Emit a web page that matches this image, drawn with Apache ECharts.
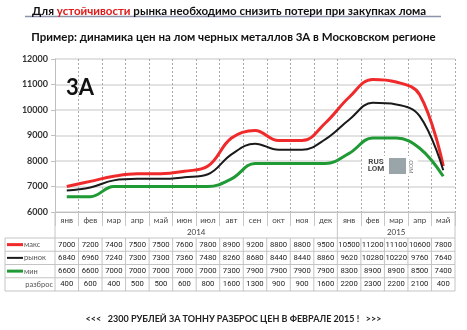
<!DOCTYPE html>
<html>
<head>
<meta charset="utf-8">
<script src="https://cdn.jsdelivr.net/npm/echarts@6/dist/echarts.min.js"></script>
<style>
  html, body { margin: 0; padding: 0; background: #fff; }
  #chart { width: 467px; height: 330px; }
</style>
</head>
<body>
<div id="chart"></div>
<script>
// Monthly scrap prices, grade 3А, Moscow region (RUB per tonne)
const months = ['янв','фев','мар','апр','май','июн','июл','авт','сен','окт','ноя','дек','янв','фев','мар','апр','май'];
const yearLabels = ['2014', '2015'];
const yearSpans = [12, 5];            // number of months under each year
const maxPrice    = [7000, 7200, 7400, 7500, 7500, 7600, 7800, 8900, 9200, 8800, 8800, 9500, 10500, 11200, 11100, 10600, 7800];
const marketPrice = [6840, 6960, 7240, 7300, 7300, 7360, 7480, 8260, 8680, 8440, 8440, 8860, 9620, 10280, 10220, 9760, 7640];
const minPrice    = [6600, 6600, 7000, 7000, 7000, 7000, 7000, 7300, 7900, 7900, 7900, 7900, 8300, 8900, 8900, 8500, 7400];
const spread      = [400, 600, 400, 500, 500, 600, 800, 1600, 1300, 900, 900, 1600, 2200, 2300, 2200, 2100, 400];
const yMin = 6000, yMax = 12000, yStep = 1000;

const FONT = 'Lato, "Open Sans", sans-serif';
const NUM_FONT = 'Roboto, "Liberation Sans", sans-serif';
const RED = '#f02a2a', BLACK = '#1a1a1a', GREEN = '#1f9a35';
const rows = [
  { name: 'макс',    values: maxPrice,    color: RED,   width: 3 },
  { name: 'рынок',   values: marketPrice, color: BLACK, width: 2 },
  { name: 'мин',     values: minPrice,    color: GREEN, width: 3 },
  { name: 'разброс', values: spread,      color: null }
];

const chart = echarts.init(document.getElementById('chart'), null, { renderer: 'canvas' });

chart.setOption({
  animation: false,
  backgroundColor: '#fff',
  title: [{
    left: 27, top: 0,
    text: '{a|Для }{r|устойчивости}{a| рынка необходимо снизить потери при закупках лома}',
    textStyle: {
      rich: {
        a: { fontFamily: FONT, fontSize: 11.5, fontWeight: 'bold', color: '#111' },
        r: { fontFamily: FONT, fontSize: 11.5, fontWeight: 'bold', color: '#e01818' }
      }
    }
  }, {
    left: 'center', top: 26,
    text: 'Пример: динамика цен на лом черных металлов 3А в Московском регионе',
    textStyle: { fontFamily: FONT, fontSize: 11.5, fontWeight: 'bold', color: '#111' }
  }, {
    left: 'center', top: 310,
    text: '<<<   2300 РУБЛЕЙ ЗА ТОННУ РАЗБРОС ЦЕН В ФЕВРАЛЕ 2015 !   >>>',
    textStyle: { fontFamily: FONT, fontSize: 9, fontWeight: 'bold', color: '#222' }
  }],
  grid: { left: 55, right: 12, top: 59, bottom: 118 },
  xAxis: {
    type: 'category',
    data: months,
    boundaryGap: true,
    axisLine: { show: true, lineStyle: { color: '#bfbfbf', width: 1 } },
    axisTick: { show: true, interval: 0, length: 14, lineStyle: { color: '#c8c8c8' } },
    axisLabel: { interval: 0, margin: 4, fontFamily: FONT, fontSize: 8, color: '#444' },
    splitLine: { show: true, interval: 0, lineStyle: { color: '#aaaaaa', width: 1, type: [2, 2] } }
  },
  yAxis: {
    type: 'value',
    min: yMin, max: yMax, interval: yStep,
    axisLine: { show: true, lineStyle: { color: '#bfbfbf' } },
    axisTick: { show: true, length: 4, lineStyle: { color: '#bfbfbf' } },
    axisLabel: { margin: 7, fontFamily: FONT, fontSize: 9, fontWeight: 'bold', color: '#333', formatter: v => String(v) },
    splitLine: { show: true, lineStyle: { color: '#d9d9d9', width: 1.5 } }
  },
  series: rows.filter(r => r.color).map(r => ({
    name: r.name,
    type: 'line',
    data: r.values,
    smooth: 0.4,
    showSymbol: false,
    lineStyle: { color: r.color, width: r.width },
    z: r.color === BLACK ? 3 : 2
  }))
});

// Data table under the plot, aligned with the category axis
function buildTable() {
  const g = [];
  const n = months.length;
  const cx = i => chart.convertToPixel({ xAxisIndex: 0 }, i);
  const half = (cx(1) - cx(0)) / 2;
  const left = cx(0) - half, right = cx(n - 1) + half;
  const yBottom = chart.convertToPixel({ yAxisIndex: 0 }, yMin);
  const rowTop = yBottom + 26, rowH = 13.25;
  const tableLeft = 5;
  const line = (x1, y1, x2, y2, color) => g.push({
    type: 'line', silent: true,
    shape: { x1, y1, x2, y2 },
    style: { stroke: color || '#c4c4c4', lineWidth: 1 }
  });
  const text = (x, y, s, align, extra) => g.push({
    type: 'text', silent: true, x, y,
    style: Object.assign({ text: s, align, verticalAlign: 'middle', fontFamily: NUM_FONT, fontSize: 7.7, fontWeight: 'normal', fill: '#222' }, extra || {})
  });

  // year row
  let start = 0;
  yearLabels.forEach((lab, k) => {
    const end = start + yearSpans[k] - 1;
    text((cx(start) + cx(end)) / 2, yBottom + 20, lab, 'center', { fontSize: 8, fontFamily: FONT, fill: '#444' });
    if (k > 0) line(cx(start) - half, yBottom, cx(start) - half, rowTop);
    start = end + 1;
  });
  line(left, yBottom, left, rowTop + 4 * rowH);
  line(right, yBottom, right, rowTop + 4 * rowH);

  // value rows
  for (let r = 0; r <= 4; r++) line(tableLeft, rowTop + r * rowH, right, rowTop + r * rowH);
  line(tableLeft, rowTop, tableLeft, rowTop + 4 * rowH);
  for (let i = 1; i < n; i++) line(cx(i) - half, rowTop, cx(i) - half, rowTop + 4 * rowH);

  rows.forEach((row, r) => {
    const yc = rowTop + (r + 0.5) * rowH;
    if (row.color) {
      g.push({ type: 'line', silent: true, shape: { x1: 7, y1: yc, x2: 23, y2: yc },
               style: { stroke: row.color, lineWidth: row.width } });
      text(24, yc, row.name, 'left', { fontSize: 7.5, fontFamily: FONT, fill: '#555' });
    } else {
      text(left - 2, yc, row.name, 'right', { fontSize: 7.5, fontFamily: FONT, fill: '#555' });
    }
    row.values.forEach((v, i) => text(cx(i), yc, String(v), 'center'));
  });

  // grade badge inside the plot
  text(80, 88, '3А', 'center', { fontSize: 22, fontWeight: 'bold', fill: '#111', fontFamily: 'Lato, sans-serif' });

  // site logo
  const ly = chart.convertToPixel({ yAxisIndex: 0 }, 8000);
  g.push({ type: 'rect', silent: true, shape: { x: 362, y: ly - 5, width: 56, height: 20 }, style: { fill: '#fff' } });
  text(376, ly + 0.5, 'RUS', 'center', { fontSize: 8, fontWeight: 'bold', fill: '#4a4a4a' });
  text(376, ly + 8, 'LOM', 'center', { fontSize: 8, fontWeight: 'bold', fill: '#4a4a4a' });
  g.push({ type: 'rect', silent: true, shape: { x: 389, y: ly - 3, width: 17, height: 16 }, style: { fill: '#9aa5aa' } });
  g.push({ type: 'text', silent: true, x: 410, y: ly + 5, rotation: -Math.PI / 2,
           style: { text: '.COM', align: 'center', verticalAlign: 'middle', fontSize: 6, fill: '#777', fontFamily: NUM_FONT } });

  // rule under the headline
  g.push({ type: 'line', silent: true, shape: { x1: 25, y1: 16.5, x2: 441, y2: 16.5 }, style: { stroke: '#8e93ad', lineWidth: 1.5 } });
  return g;
}

chart.setOption({ graphic: buildTable() });
</script>
</body>
</html>
